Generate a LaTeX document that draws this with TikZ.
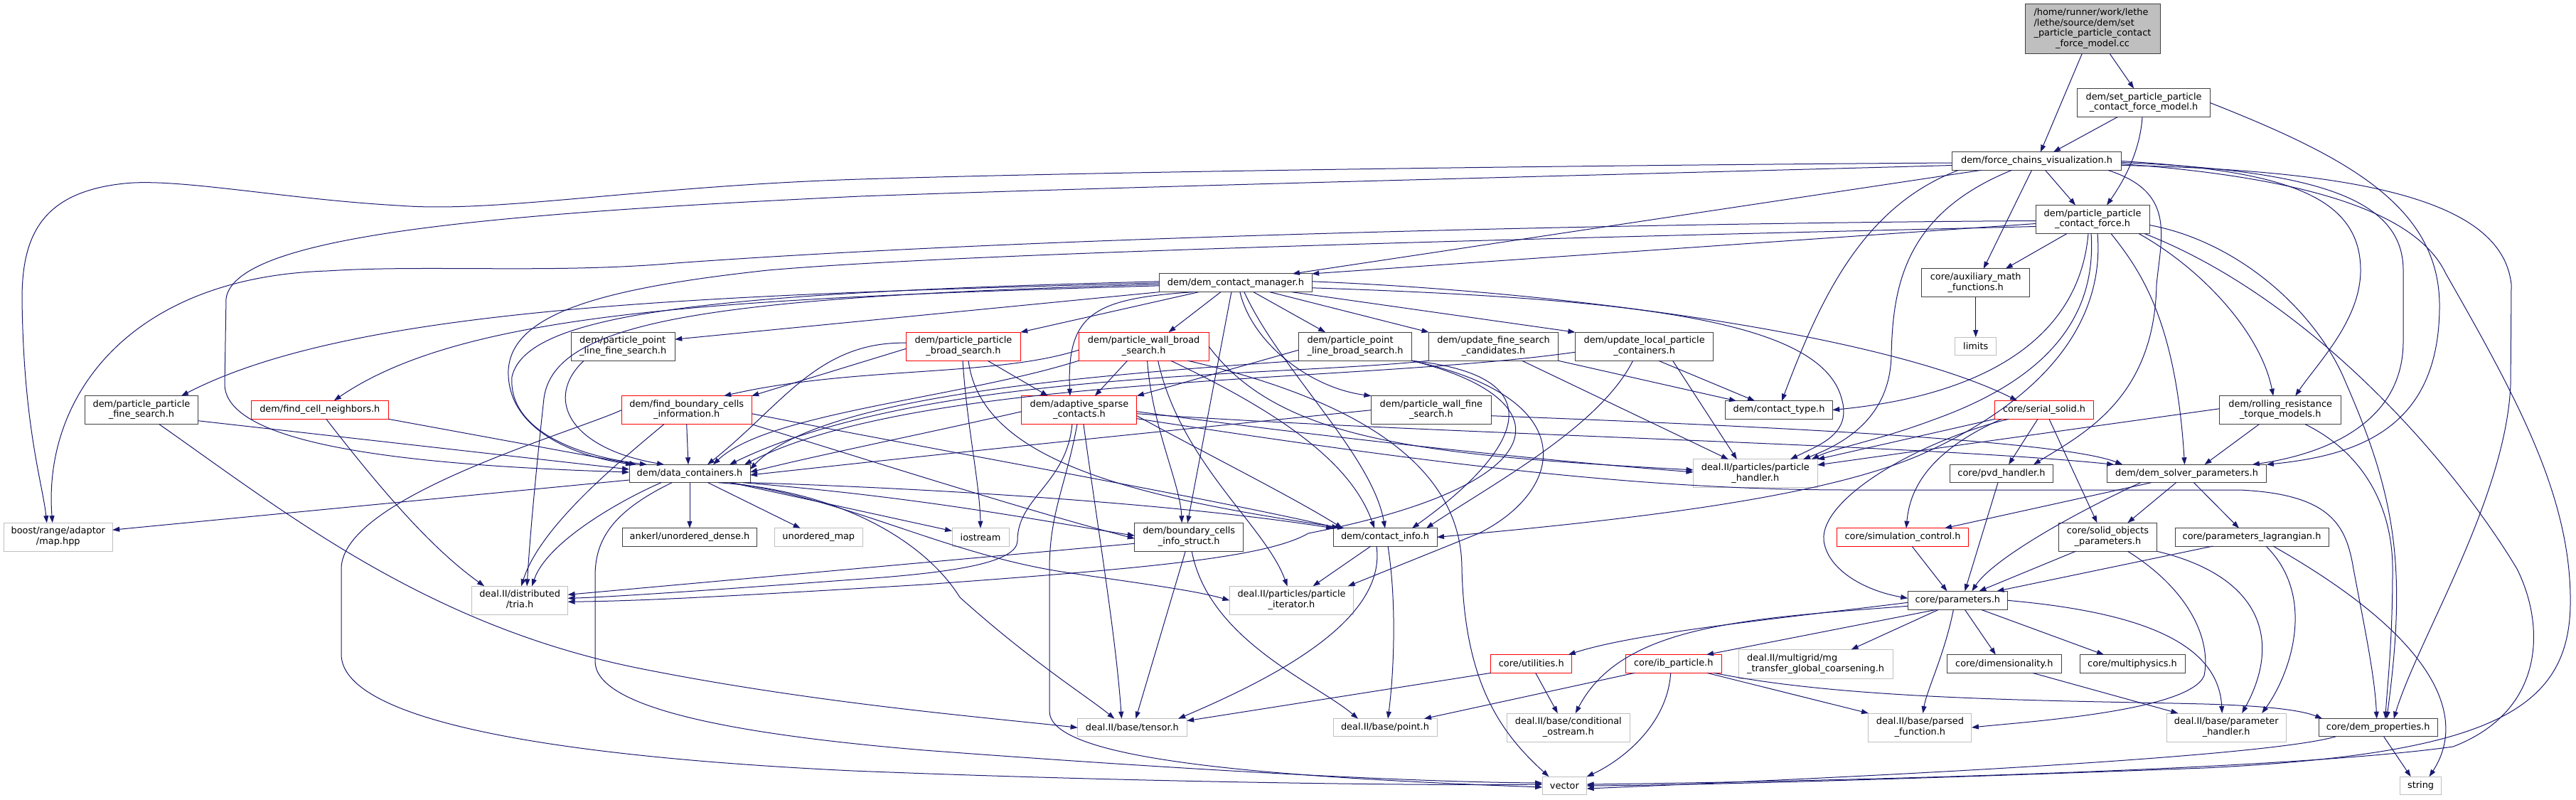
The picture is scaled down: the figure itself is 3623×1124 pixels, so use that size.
\documentclass[tikz,border=0pt]{standalone}
\usepackage{fontspec}
\setmainfont{DejaVu Sans}
\usetikzlibrary{arrows.meta}
\definecolor{edgec}{HTML}{191970}
\definecolor{grayb}{HTML}{BFBFBF}
\definecolor{darkb}{HTML}{404040}
\newcommand{\twoln}[2]{\begin{tabular}{@{}l@{}}#1\\\multicolumn{1}{@{}c@{}}{#2}\end{tabular}}
\newcommand{\nd}[6]{\node[#1, minimum width=#2pt, minimum height=#3pt] (#4) at (#5) {#6};}
\tikzset{
  nbase/.style={inner sep=0pt, outer sep=0pt, line width=1pt, fill=white, font=\fontsize{12.9}{14.7}\selectfont},
  nb/.style={nbase, draw=darkb},
  ngray/.style={nbase, draw=grayb},
  nred/.style={nbase, draw=red},
  nroot/.style={nbase, draw=darkb, fill=grayb},
  edg/.style={draw=edgec, line width=1pt, -{Triangle[length=10pt,width=7pt]}},
}
\begin{document}
\begin{tikzpicture}[x=1pt,y=-1pt]
\useasboundingbox (0,0) rectangle (3623,1124);
% ---------------- nodes ----------------
\nd{nroot}{190}{70}{R}{2943,40.5}{\begin{tabular}{@{}l@{}}/home/runner/work/lethe\\/lethe/source/dem/set\\\_particle\_particle\_contact\\\multicolumn{1}{@{}c@{}}{\_force\_model.cc}\end{tabular}}
\nd{nb}{186.5}{40}{S}{3015,144.5}{\twoln{dem/set\_particle\_particle}{\_contact\_force\_model.h}}
\nd{nb}{238}{25.6}{FC}{2864.5,226.5}{dem/force\_chains\_visualization.h}
\nd{nb}{160}{40}{PPCF}{2943,308.5}{\twoln{dem/particle\_particle}{\_contact\_force.h}}
\nd{nb}{152}{40}{AUX}{2778.7,397.8}{\twoln{core/auxiliary\_math}{\_functions.h}}
\nd{ngray}{58.5}{25.7}{LIM}{2778.7,487}{limits}
\nd{nb}{214.5}{25.7}{DCM}{1737.9,397.8}{dem/dem\_contact\_manager.h}
\nd{nb}{159}{40}{PPFS}{199,576.7}{\twoln{dem/particle\_particle}{\_fine\_search.h}}
\nd{nred}{193}{26}{FCN}{449.8,576.3}{dem/find\_cell\_neighbors.h}
\nd{nb}{146}{40}{PPLFS}{876.2,487.2}{\twoln{dem/particle\_point}{\_line\_fine\_search.h}}
\nd{nred}{183}{40}{FBCI}{965.7,576.7}{\twoln{dem/find\_boundary\_cells}{\_information.h}}
\nd{nred}{160.5}{40}{PPBS}{1355,487.2}{\twoln{dem/particle\_particle}{\_broad\_search.h}}
\nd{nred}{183}{40}{PWBS}{1608.6,487.2}{\twoln{dem/particle\_wall\_broad}{\_search.h}}
\nd{nb}{159}{40}{PPLBS}{1906,487.2}{\twoln{dem/particle\_point}{\_line\_broad\_search.h}}
\nd{nb}{182}{40}{UFSC}{2100.5,487.2}{\twoln{dem/update\_fine\_search}{\_candidates.h}}
\nd{nb}{194.5}{40}{ULPC}{2312.6,487.2}{\twoln{dem/update\_local\_particle}{\_containers.h}}
\nd{nred}{162}{40}{ASC}{1517.9,576.7}{\twoln{dem/adaptive\_sparse}{\_contacts.h}}
\nd{nb}{169}{40}{PWFS}{2012.9,576.7}{\twoln{dem/particle\_wall\_fine}{\_search.h}}
\nd{nb}{150.5}{25.5}{CT}{2502,576.5}{dem/contact\_type.h}
\nd{nred}{139}{26}{SS}{2875,576.3}{core/serial\_solid.h}
\nd{nb}{171}{40}{RR}{3207.2,576.7}{\twoln{dem/rolling\_resistance}{\_torque\_models.h}}
\nd{nb}{170}{25.4}{DC}{970,666}{dem/data\_containers.h}
\nd{ngray}{174.5}{40}{PH}{2468.8,665.9}{\twoln{deal.II/particles/particle}{\_handler.h}}
\nd{nb}{145}{25.4}{PVD}{2815,666}{core/pvd\_handler.h}
\nd{nb}{224.6}{25.4}{DSP}{3075.5,666}{dem/dem\_solver\_parameters.h}
\nd{ngray}{152.8}{40}{BM}{81.8,755.2}{\twoln{boost/range/adaptor}{/map.hpp}}
\nd{nb}{189.8}{25.3}{ANK}{970,755.4}{ankerl/unordered\_dense.h}
\nd{ngray}{124}{25.3}{UM}{1151.3,755.4}{unordered\_map}
\nd{ngray}{80}{25.3}{IOS}{1379,755.4}{iostream}
\nd{nb}{152.8}{40}{BCIS}{1672.2,755.3}{\twoln{dem/boundary\_cells}{\_info\_struct.h}}
\nd{nb}{146}{25.3}{CI}{1948,755.4}{dem/contact\_info.h}
\nd{nred}{185.7}{25.3}{SC}{2676,755.4}{core/simulation\_control.h}
\nd{nb}{138}{40}{SOP}{2964.4,755.2}{\twoln{core/solid\_objects}{\_parameters.h}}
\nd{nb}{216}{25.3}{PL}{3167,755.4}{core/parameters\_lagrangian.h}
\nd{ngray}{135}{40}{TRIA}{731.1,844.3}{\twoln{deal.II/distributed}{/tria.h}}
\nd{ngray}{174.4}{40}{PI}{1816.5,844.3}{\twoln{deal.II/particles/particle}{\_iterator.h}}
\nd{nb}{140.4}{26}{PAR}{2753.4,844.3}{core/parameters.h}
\nd{nred}{114}{25.7}{UT}{2153.7,933.5}{core/utilities.h}
\nd{nred}{134.6}{25.7}{IB}{2353.7,933.5}{core/ib\_particle.h}
\nd{ngray}{216.8}{40.7}{MG}{2553.6,933.7}{\twoln{deal.II/multigrid/mg}{\_transfer\_global\_coarsening.h}}
\nd{nb}{160.7}{25.7}{DIM}{2818.8,933.5}{core/dimensionality.h}
\nd{nb}{148}{25.7}{MP}{2999,933.5}{core/multiphysics.h}
\nd{ngray}{153.5}{25.3}{TEN}{1592.4,1023.3}{deal.II/base/tensor.h}
\nd{ngray}{146}{25.3}{PT}{1948,1023.3}{deal.II/base/point.h}
\nd{ngray}{173.6}{40}{COS}{2205.8,1023}{\twoln{deal.II/base/conditional}{\_ostream.h}}
\nd{ngray}{145}{40}{PF}{2700.4,1023}{\twoln{deal.II/base/parsed}{\_function.h}}
\nd{ngray}{167.7}{40}{PHND}{3131.2,1023}{\twoln{deal.II/base/parameter}{\_handler.h}}
\nd{nb}{167}{25.3}{DP}{3344.7,1023.3}{core/dem\_properties.h}
\nd{ngray}{62.5}{25.7}{VEC}{2200.4,1105}{vector}
\nd{ngray}{57.7}{25.7}{STR}{3404.6,1105}{string}
% ---------------- edges ----------------
% root and set model
\draw[edg] (R) -- (FC);
\draw[edg] (R) -- (S);
\draw[edg] (S) -- (FC);
\draw[edg] ([xshift=-2pt]S.south) .. controls (3010,210) and (2990,250) .. ([xshift=20pt]PPCF.north);
\draw[edg] (S.east) .. controls (3300,220) and (3431,290) .. (3431,430) .. controls (3431,600) and (3320,640) .. (DSP.north east);
% force chains
\draw[edg] ([yshift=-2.5pt]FC.west) .. controls (2300,232) and (1600,240) .. (1210,252) .. controls (900,262) and (700,300) .. (560,289) .. controls (400,280) and (250,250) .. (175,258) .. controls (60,270) and (31,330) .. (31,420) .. controls (33,600) and (60,680) .. ([xshift=-16pt]BM.north);
\draw[edg] ([yshift=-6pt]FC.west) .. controls (2300,245) and (1600,262) .. (1210,276) .. controls (700,300) and (330,330) .. (318,420) -- (316,540) .. controls (316,630) and (600,655) .. ([yshift=2pt]DC.west);
\draw[edg] ([xshift=-78pt]FC.south) -- ([xshift=80pt]DCM.north);
\draw[edg] ([xshift=-7pt]FC.south) -- ([xshift=11pt]AUX.north);
\draw[edg] ([xshift=12pt]FC.south) -- ([xshift=-24pt]PPCF.north);
\draw[edg] ([xshift=-110pt]FC.south) .. controls (2620,290) and (2560,420) .. ([xshift=4pt]CT.north);
\draw[edg] ([xshift=-35pt]FC.south) .. controls (2680,300) and (2662,400) .. (2660,500) .. controls (2658,590) and (2590,625) .. ([xshift=-20pt]PH.north east);
\draw[edg] ([xshift=100pt]FC.south) .. controls (3060,270) and (3040,330) .. (3033,400) .. controls (3030,560) and (2930,610) .. ([xshift=45pt]PVD.north);
\draw[edg] (FC.east) .. controls (3200,240) and (3320,270) .. (3320,380) .. controls (3320,450) and (3260,510) .. ([xshift=21pt]RR.north);
\draw[edg] ([yshift=-2pt]FC.east) .. controls (3260,240) and (3380,280) .. (3380,380) -- (3380,480) .. controls (3380,600) and (3260,640) .. ([xshift=-20pt]DSP.north east);
\draw[edg] ([yshift=-4pt]FC.east) .. controls (3250,250) and (3400,300) .. (3440,385) .. controls (3540,560) and (3617,700) .. (3615,850) .. controls (3613,1000) and (3500,1060) .. (3100,1080) .. controls (2700,1095) and (2400,1104) .. (VEC.east);
\draw[edg] ([yshift=-6pt]FC.east) .. controls (3350,240) and (3520,290) .. (3532,400) -- (3531,540) .. controls (3525,700) and (3400,900) .. ([xshift=22pt]DP.north);
% particle particle contact force
\draw[edg] ([yshift=-2pt]PPCF.west) .. controls (2400,313) and (1500,330) .. (950,370) .. controls (780,385) and (600,372) .. (460,381) .. controls (180,390) and (60,560) .. ([xshift=-8pt]BM.north);
\draw[edg] ([yshift=-10pt]PPCF.west) .. controls (2400,330) and (1400,352) .. (1080,380) .. controls (850,405) and (720,440) .. (715,520) .. controls (712,600) and (800,640) .. ([xshift=-80pt]DC.north);
\draw[edg] ([yshift=-6pt]PPCF.west) -- (DCM.north east);
\draw[edg] ([xshift=-36pt]PPCF.south) -- ([xshift=42pt]AUX.north);
\draw[edg] ([xshift=-6pt]PPCF.south) .. controls (2925,470) and (2800,555) .. (CT.east);
\draw[edg] ([xshift=-2pt]PPCF.south) .. controls (2950,460) and (2860,540) .. (2720,590) .. controls (2640,620) and (2580,630) .. ([xshift=-8pt]PH.north east);
\draw[edg] ([xshift=7pt]PPCF.south) .. controls (2960,450) and (2880,560) .. (2700,640) .. controls (2560,700) and (2300,730) .. (CI.east);
\draw[edg] ([xshift=26pt]PPCF.south) .. controls (3010,380) and (3060,450) .. ([xshift=-3pt]DSP.north);
\draw[edg] ([xshift=65pt]PPCF.south) .. controls (3100,380) and (3180,470) .. ([xshift=-10pt]RR.north);
\draw[edg] ([xshift=73pt]PPCF.south) .. controls (3250,420) and (3450,650) .. (3540,800) .. controls (3580,880) and (3580,1000) .. (3450,1050) .. controls (3200,1085) and (2500,1100) .. ([yshift=2pt]VEC.east);
\draw[edg] ([yshift=-8pt]PPCF.east) .. controls (3150,340) and (3260,440) .. (3300,540) .. controls (3370,700) and (3385,800) .. ([xshift=12pt]DP.north);
% dem contact manager
\draw[edg] ([xshift=-52pt]DCM.south) -- (PPBS.north east);
\draw[edg] ([xshift=-21pt]DCM.south) -- ([xshift=35pt]PWBS.north);
\draw[edg] ([xshift=25pt]DCM.south) -- ([xshift=-42pt]PPLBS.north);
\draw[edg] ([xshift=48pt]DCM.south) -- (UFSC.north west);
\draw[edg] ([xshift=79pt]DCM.south) -- (ULPC.north west);
\draw[edg] ([xshift=-60pt]DCM.south) .. controls (1540,420) and (1500,440) .. ([xshift=-13pt]ASC.north);
\draw[edg] ([xshift=6pt]DCM.south) .. controls (1760,480) and (1840,545) .. (PWFS.north west);
\draw[edg] ([xshift=-6pt]DCM.south) -- ([xshift=-2pt]BCIS.north);
\draw[edg] ([xshift=12pt]DCM.south) .. controls (1800,520) and (1930,640) .. (CI.north);
\draw[edg] (DCM.south west) -- ([yshift=10pt]PPLFS.east);
\draw[edg] (DCM.west) .. controls (1000,415) and (500,430) .. ([xshift=56pt]PPFS.north);
\draw[edg] ([yshift=-4pt]DCM.west) .. controls (1000,420) and (650,440) .. ([xshift=20pt]FCN.north);
\draw[edg] ([yshift=2pt]DCM.west) .. controls (1000,412) and (740,440) .. (720,530) .. controls (715,600) and (800,640) .. ([xshift=-60pt]DC.north);
\draw[edg] ([yshift=-2pt]DCM.west) .. controls (1000,418) and (780,450) .. (765,560) .. controls (752,680) and (745,760) .. ([xshift=10pt]TRIA.north);
\draw[edg] ([yshift=2pt]DCM.east) .. controls (2200,410) and (2650,470) .. ([xshift=-38pt]SS.north);
\draw[edg] ([yshift=-7pt]DCM.east) .. controls (2300,420) and (2560,450) .. (2590,560) .. controls (2605,610) and (2560,625) .. ([xshift=-38pt]PH.north east);
% broad searches
\draw[edg] ([xshift=34pt]PPBS.south) -- ([xshift=-44pt]ASC.north);
\draw[edg] ([yshift=5pt]PPBS.west) .. controls (1150,480) and (1100,570) .. ([xshift=25pt]DC.north);
\draw[edg] ([xshift=-1pt]PPBS.south) .. controls (1360,600) and (1378,680) .. (IOS.north);
\draw[edg] ([xshift=7pt]PPBS.south) .. controls (1380,650) and (1600,700) .. ([xshift=16pt]CI.north west);
\draw[edg] ([yshift=-3pt]PPBS.west) -- (FBCI.north east);
\draw[edg] ([yshift=-5pt]PWBS.west) .. controls (1400,530) and (1200,515) .. ([xshift=-39pt]FBCI.north east);
\draw[edg] (PWBS.south west) .. controls (1350,560) and (1080,580) .. ([xshift=33pt]DC.north);
\draw[edg] ([xshift=-23pt]PWBS.south) -- ([xshift=22pt]ASC.north);
\draw[edg] ([xshift=5pt]PWBS.south) .. controls (1620,600) and (1660,680) .. ([xshift=-10pt]BCIS.north);
\draw[edg] ([xshift=38pt]PWBS.south) .. controls (1800,580) and (1900,650) .. ([xshift=-15pt]CI.north);
\draw[edg] ([xshift=62pt]PWBS.south) .. controls (1900,560) and (2056,650) .. (2056,800) .. controls (2060,960) and (2110,1030) .. ([xshift=-22pt]VEC.north);
\draw[edg] (PWBS.east) .. controls (1800,620) and (2000,640) .. ([yshift=5pt]PH.west);
\draw[edg] ([xshift=20pt]PWBS.south) .. controls (1660,650) and (1780,740) .. ([xshift=-6pt]PI.north);
\draw[edg] ([yshift=-5pt]PPLBS.west) -- (ASC.north east);
\draw[edg] (PPLBS.south west) .. controls (1500,530) and (1150,560) .. ([yshift=6pt]DC.east);
\draw[edg] (PPLBS.south east) .. controls (2200,560) and (2200,680) .. (1840,750) .. controls (1780,785) and (1600,800) .. (1300,822) .. controls (1000,840) and (900,845) .. ([yshift=-2pt]TRIA.east);
\draw[edg] (PPLBS.south east) .. controls (2200,530) and (2130,640) .. ([xshift=38pt]CI.north);
\draw[edg] (PPLBS.south east) .. controls (2230,560) and (2200,690) .. (2080,750) -- ([xshift=-8pt]PI.north east);
% update searches
\draw[edg] (UFSC.south east) -- ([xshift=-60pt]CT.north);
\draw[edg] ([xshift=40pt]UFSC.south) -- ([xshift=-38pt]PH.north);
\draw[edg] (UFSC.south west) .. controls (1800,530) and (1300,520) .. ([xshift=56pt]DC.north);
\draw[edg] ([xshift=20pt]ULPC.south) -- ([xshift=-34pt]CT.north);
\draw[edg] ([xshift=40pt]ULPC.south) -- ([xshift=-26pt]PH.north);
\draw[edg] ([xshift=-16pt]ULPC.south) .. controls (2250,600) and (2100,680) .. ([xshift=58pt]CI.north);
\draw[edg] ([yshift=-8pt]ULPC.west) .. controls (1900,540) and (1300,525) .. ([xshift=-8pt]DC.north east);
% fine searches
\draw[edg] (PWFS.west) .. controls (1700,600) and (1400,630) .. ([yshift=-2pt]DC.east);
\draw[edg] ([yshift=-8pt]PWFS.east) .. controls (2500,600) and (2900,620) .. ([xshift=22pt]DSP.north west);
% adaptive sparse contacts
\draw[edg] ([yshift=-2pt]ASC.west) .. controls (1300,610) and (1150,640) .. ([yshift=2pt]DC.east);
\draw[edg] ([xshift=-10pt]ASC.south) .. controls (1500,680) and (1431,700) .. (1431,760) .. controls (1431,790) and (1350,805) .. (1200,815) .. controls (1000,830) and (850,840) .. ([yshift=3pt]TRIA.east);
\draw[edg] ([yshift=-8pt]ASC.east) .. controls (1700,640) and (1820,700) .. ([xshift=-60pt]CI.north);
\draw[edg] ([xshift=-3pt]ASC.south) .. controls (1500,680) and (1476,720) .. (1476,800) -- (1476,1000) .. controls (1476,1060) and (1700,1090) .. ([yshift=-2pt]VEC.west);
\draw[edg] ([xshift=6pt]ASC.south) .. controls (1545,750) and (1570,900) .. ([xshift=-15pt]TEN.north);
\draw[edg] ([yshift=-2pt]ASC.east) .. controls (1900,620) and (2200,650) .. ([yshift=2pt]PH.west);
\draw[edg] ([yshift=-5pt]ASC.east) .. controls (2000,610) and (2700,625) .. ([xshift=10pt]DSP.north west);
\draw[edg] ([yshift=-12pt]ASC.east) .. controls (2000,650) and (2300,689) .. (2600,689) -- (3150,689) .. controls (3280,695) and (3300,740) .. (3310,800) .. controls (3325,880) and (3340,950) .. ([xshift=-2pt]DP.north);
% find boundary cells / neighbors / fine searches
\draw[edg] (FBCI.south) -- ([xshift=-2pt]DC.north);
\draw[edg] ([xshift=-32pt]FBCI.south) .. controls (870,650) and (760,740) .. ([xshift=2pt]TRIA.north);
\draw[edg] (FBCI.west) .. controls (800,610) and (480,700) .. (480,800) -- (480,920) .. controls (480,1000) and (700,1060) .. (1200,1084) .. controls (1600,1100) and (2000,1105) .. ([yshift=2pt]VEC.west);
\draw[edg] (FBCI.south east) .. controls (1200,640) and (1450,720) .. ([yshift=-2pt]BCIS.west);
\draw[edg] ([yshift=-5pt]FBCI.east) .. controls (1300,630) and (1700,700) .. ([xshift=8pt]CI.north west);
\draw[edg] (FCN.south east) -- ([xshift=-75pt]DC.north);
\draw[edg] ([xshift=9pt]FCN.south) .. controls (560,720) and (620,780) .. ([xshift=-50pt]TRIA.north);
\draw[edg] ([yshift=-15pt]PPFS.east) -- ([yshift=6pt]DC.west);
\draw[edg] ([xshift=25pt]PPFS.south) .. controls (400,720) and (600,880) .. (900,940) .. controls (1150,990) and (1400,1010) .. (TEN.west);
\draw[edg] ([xshift=-55pt]PPLFS.south) .. controls (765,560) and (800,630) .. ([xshift=-36pt]DC.north);
% data containers
\draw[edg] ([yshift=-9pt]DC.west) -- ([yshift=10pt]BM.east);
\draw[edg] (DC) -- (ANK);
\draw[edg] (DC) -- (UM);
\draw[edg] (DC) -- (IOS);
\draw[edg] ([xshift=-40pt]DC.south) .. controls (880,700) and (770,760) .. ([xshift=17pt]TRIA.north);
\draw[edg] ([xshift=-25pt]DC.south) .. controls (860,720) and (837,760) .. (837,810) -- (837,930) .. controls (837,990) and (1000,1030) .. (1300,1055) .. controls (1700,1085) and (2000,1100) .. ([yshift=4pt]VEC.west);
\draw[edg] ([xshift=-10pt]DC.south east) .. controls (1300,700) and (1450,730) .. ([yshift=2pt]BCIS.west);
\draw[edg] (DC.south east) .. controls (1400,690) and (1700,715) .. (CI.north west);
\draw[edg] ([xshift=40pt]DC.south) .. controls (1180,690) and (1300,760) .. (1350,840) .. controls (1450,930) and (1530,980) .. ([xshift=-25pt]TEN.north);
\draw[edg] ([xshift=55pt]DC.south) .. controls (1190,700) and (1330,780) .. (1500,805) .. controls (1600,820) and (1680,830) .. (PI.west);
% boundary cells, contact info
\draw[edg] ([yshift=-9pt]BCIS.west) -- ([yshift=8pt]TRIA.east);
\draw[edg] ([xshift=-5pt]BCIS.south) -- ([xshift=5pt]TEN.north);
\draw[edg] ([xshift=4pt]BCIS.south) .. controls (1700,900) and (1850,960) .. ([xshift=-38pt]PT.north);
\draw[edg] ([xshift=-12pt]CI.south) .. controls (1950,870) and (1800,950) .. ([xshift=-12pt]TEN.north east);
\draw[edg] ([xshift=4pt]CI.south) .. controls (1965,850) and (1960,950) .. ([xshift=4pt]PT.north);
\draw[edg] ([xshift=-20pt]CI.south) -- ([xshift=30pt]PI.north);
% utilities, ib particle
\draw[edg] (UT.south west) -- ([yshift=-3pt]TEN.north east);
\draw[edg] ([xshift=6pt]UT.south) -- ([xshift=-15pt]COS.north);
\draw[edg] ([xshift=-55pt]IB.south) -- ([xshift=55pt]PT.north);
\draw[edg] ([xshift=-4pt]IB.south) .. controls (2345,1020) and (2280,1070) .. (VEC.north east);
\draw[edg] ([xshift=-20pt]IB.south east) -- (PF.north west);
\draw[edg] ([xshift=-10pt]IB.south east) .. controls (2600,985) and (2900,985) .. (3100,990) .. controls (3200,993) and (3240,1000) .. ([xshift=5pt]DP.north west);
% parameters
\draw[edg] ([yshift=-3pt]PAR.west) .. controls (2500,870) and (2300,890) .. ([xshift=-5pt]UT.north east);
\draw[edg] ([yshift=-8pt]PAR.west) .. controls (2450,870) and (2280,880) .. ([xshift=10pt]COS.north);
\draw[edg] ([xshift=-30pt]PAR.south) -- ([xshift=-21pt]IB.north east);
\draw[edg] ([xshift=-27pt]PAR.south) -- ([xshift=50pt]MG.north);
\draw[edg] ([xshift=-6pt]PAR.south) .. controls (2735,920) and (2710,970) .. ([xshift=4pt]PF.north);
\draw[edg] ([xshift=10pt]PAR.south) -- ([xshift=-12pt]DIM.north);
\draw[edg] ([xshift=33pt]PAR.south) -- ([xshift=-40pt]MP.north);
\draw[edg] (PAR.east) .. controls (3000,860) and (3120,900) .. ([xshift=-6pt]PHND.north);
\draw[edg] ([xshift=40pt]DIM.south) -- ([xshift=16pt]PHND.north west);
% solid objects, lagrangian, solver parameters
\draw[edg] ([xshift=28pt]SOP.south) .. controls (3080,830) and (3110,900) .. (3100,950) .. controls (3080,1000) and (2850,1015) .. (PF.east);
\draw[edg] (SOP.south east) .. controls (3180,810) and (3210,900) .. ([xshift=22pt]PHND.north);
\draw[edg] ([xshift=-45pt]SOP.south) -- ([xshift=30pt]PAR.north);
\draw[edg] ([xshift=-55pt]PL.south) -- ([xshift=55pt]PAR.north);
\draw[edg] ([xshift=20pt]PL.south) .. controls (3260,840) and (3220,950) .. ([xshift=50pt]PHND.north);
\draw[edg] ([xshift=30pt]PL.south) .. controls (3430,900) and (3470,1010) .. ([xshift=12pt]STR.north);
\draw[edg] ([xshift=-50pt]DSP.south) -- ([xshift=59pt]SC.north);
\draw[edg] ([xshift=-65pt]DSP.south) .. controls (2900,730) and (2800,790) .. ([xshift=20pt]PAR.north);
\draw[edg] ([xshift=-15pt]DSP.south) -- ([xshift=28pt]SOP.north);
\draw[edg] ([xshift=10pt]DSP.south) -- ([xshift=-18pt]PL.north);
% serial solid, pvd, simulation control
\draw[edg] (SS.south west) -- (PH.north east);
\draw[edg] ([xshift=-50pt]SS.south) .. controls (2700,620) and (2560,700) .. (2565,760) .. controls (2570,800) and (2620,830) .. ([yshift=3pt]PAR.west);
\draw[edg] ([xshift=-60pt]SS.south) .. controls (2700,640) and (2685,700) .. ([xshift=5pt]SC.north);
\draw[edg] ([xshift=-9pt]SS.south) -- ([xshift=10pt]PVD.north);
\draw[edg] ([xshift=7pt]SS.south) -- ([xshift=-15pt]SOP.north);
\draw[edg] ([xshift=-5pt]PVD.south) -- ([xshift=10pt]PAR.north);
\draw[edg] ([xshift=13pt]SC.south) -- ([xshift=-15pt]PAR.north);
% rolling resistance
\draw[edg] ([xshift=-30pt]RR.south) -- ([xshift=25pt]DSP.north);
\draw[edg] ([yshift=2pt]RR.west) -- ([yshift=12pt]PH.east);
\draw[edg] ([xshift=35pt]RR.south) .. controls (3330,640) and (3365,720) .. (3365,800) .. controls (3365,900) and (3358,960) .. ([xshift=10pt]DP.north);
% dem properties, aux
\draw[edg] ([xshift=8pt]DP.south) -- ([xshift=-14pt]STR.north);
\draw[edg] ([xshift=-60pt]DP.south) .. controls (3200,1060) and (2800,1085) .. ([yshift=-4pt]VEC.east);
\draw[edg] (AUX) -- (LIM);
\end{tikzpicture}
\end{document}
